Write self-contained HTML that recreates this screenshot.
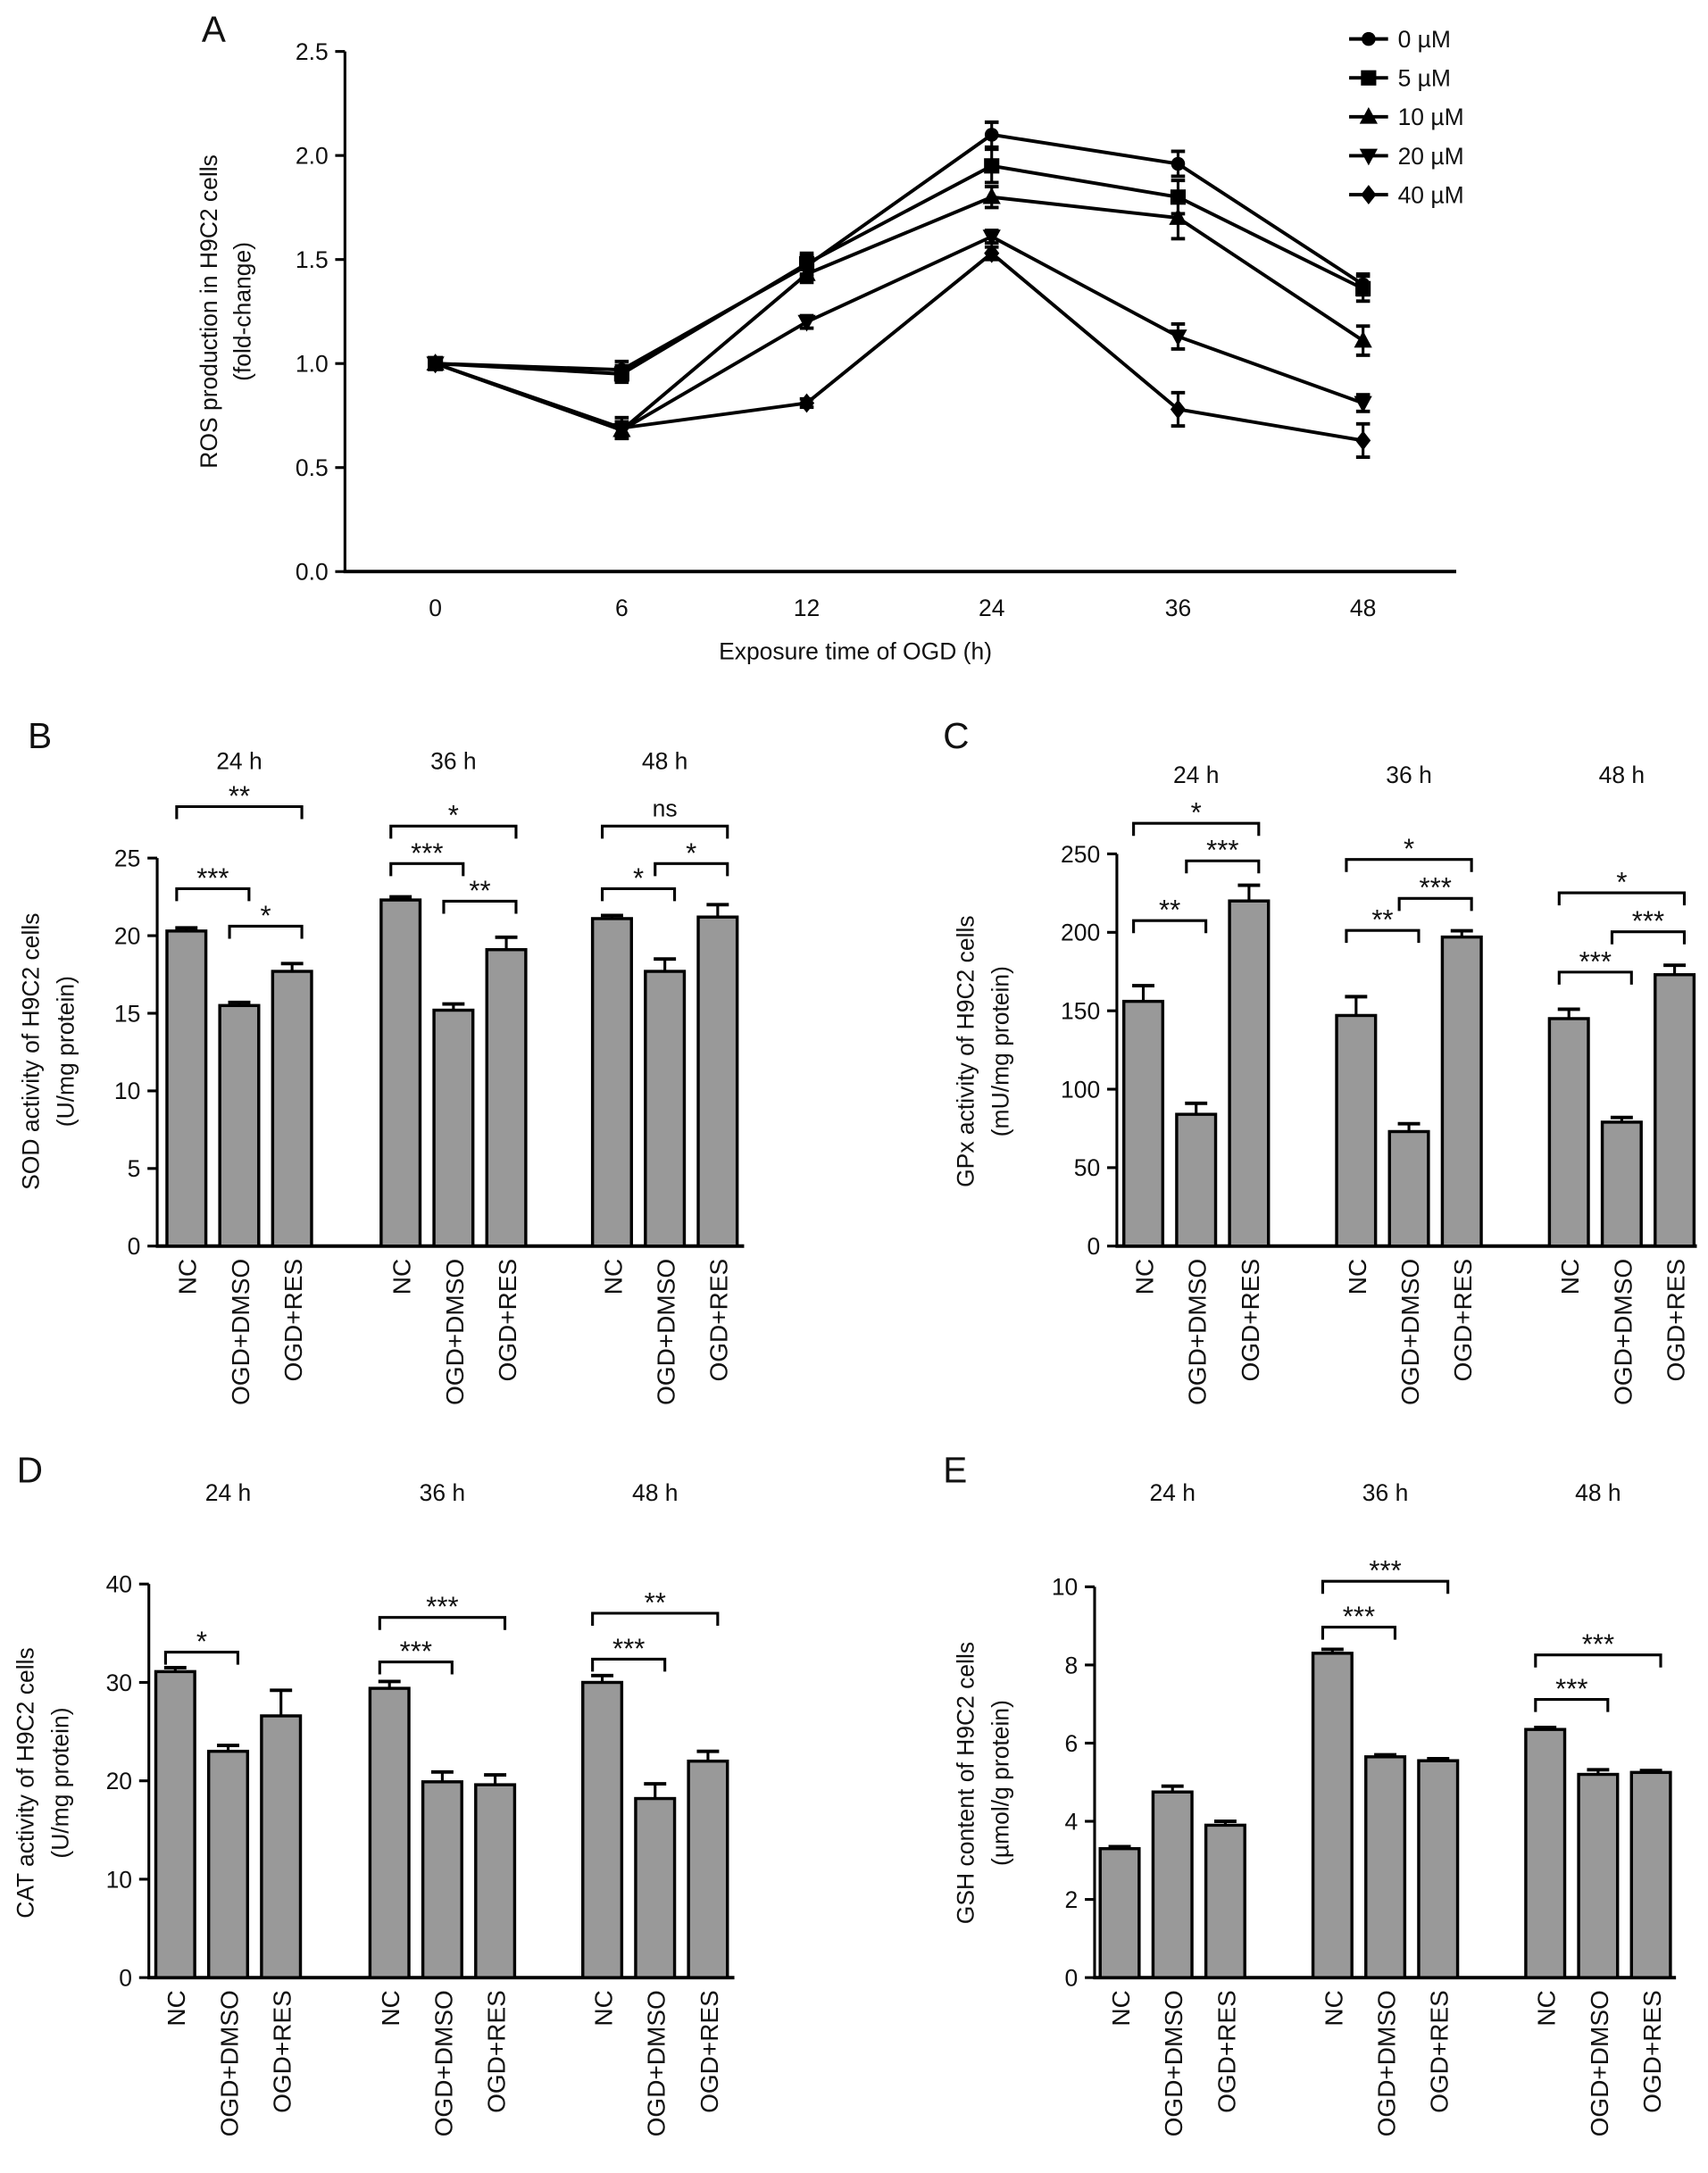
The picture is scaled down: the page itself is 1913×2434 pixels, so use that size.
<!DOCTYPE html>
<html><head><meta charset="utf-8"><style>
html,body{margin:0;padding:0;background:#fff}
svg{display:block}
text{font-family:"Liberation Sans",sans-serif;fill:#111}
</style></head><body>
<svg id="fig" width="1913" height="2434" viewBox="0 0 1228 1562.5" xmlns="http://www.w3.org/2000/svg"></svg>
<script>
// ---- Panel A data ----
const timesA = [0, 6, 12, 24, 36, 48];
const seriesNamesA = ["0 µM", "5 µM", "10 µM", "20 µM", "40 µM"];
const s0 = [1.0, 0.97, 1.47, 2.10, 1.96, 1.38];
const s5 = [1.0, 0.95, 1.48, 1.95, 1.80, 1.36];
const s10 = [1.0, 0.68, 1.43, 1.80, 1.70, 1.11];
const s20 = [1.0, 0.68, 1.20, 1.61, 1.13, 0.81];
const s40 = [1.0, 0.69, 0.81, 1.53, 0.78, 0.63];
const e0 = [0.02, 0.04, 0.05, 0.06, 0.06, 0.05];
const e5 = [0.02, 0.04, 0.05, 0.08, 0.08, 0.06];
const e10 = [0.02, 0.04, 0.04, 0.05, 0.1, 0.07];
const e20 = [0.02, 0.04, 0.03, 0.03, 0.06, 0.04];
const e40 = [0.02, 0.05, 0.02, 0.03, 0.08, 0.08];
const yTicksA = [0.0, 0.5, 1.0, 1.5, 2.0, 2.5];
// ---- Bar panels data ----
const groupsBar = ["24 h", "36 h", "48 h"];
const catsBar = ["NC", "OGD+DMSO", "OGD+RES"];
const valsB = [20.3, 15.5, 17.7, 22.3, 15.2, 19.1, 21.1, 17.7, 21.2];
const errB = [0.2, 0.2, 0.5, 0.2, 0.4, 0.8, 0.2, 0.8, 0.8];
const ticksB = [0, 5, 10, 15, 20, 25];
const valsC = [156, 84, 220, 147, 73, 197, 145, 79, 173];
const errC = [10, 7, 10, 12, 5, 4, 6, 3, 6];
const ticksC = [0, 50, 100, 150, 200, 250];
const valsD = [31.1, 23.0, 26.6, 29.4, 19.9, 19.6, 30.0, 18.2, 22.0];
const errD = [0.4, 0.6, 2.6, 0.7, 1.0, 1.0, 0.7, 1.5, 1.0];
const ticksD = [0, 10, 20, 30, 40];
const valsE = [3.3, 4.75, 3.9, 8.3, 5.65, 5.55, 6.35, 5.2, 5.25];
const errE = [0.05, 0.15, 0.1, 0.1, 0.05, 0.05, 0.05, 0.12, 0.05];
const ticksE = [0, 2, 4, 6, 8, 10];

const NS = "http://www.w3.org/2000/svg";
const svg = document.getElementById('fig');
function mk(tag, attrs, parent, txt) {
  const e = document.createElementNS(NS, tag);
  for (const k in attrs) e.setAttribute(k, attrs[k]);
  if (txt !== undefined) e.textContent = txt;
  (parent || svg).appendChild(e);
  return e;
}
function line(x1, y1, x2, y2, w, p) { return mk('line', {x1, y1, x2, y2, stroke: '#000', 'stroke-width': w || 2}, p); }

// ================= Panel A =================
(function () {
  const g = mk('g', {});
  
  
  const xs = {0: 313, 6: 447, 12: 580, 24: 713, 36: 847, 48: 980};
  const X = t => xs[t];
  const Y = v => 411 - v / 2.5 * 374;
  let t = mk('text', {x: 145, y: 30, 'font-size': 26}, g, 'A');
   
  line(248, 37, 248, 412, 2, g);
  line(247, 411, 1047, 411, 2.5, g);
  yTicksA.forEach(v => {
    line(241, Y(v), 248, Y(v), 2, g);
    const tt = mk('text', {x: 236, y: Y(v) + 6, 'font-size': 17, 'text-anchor': 'end'}, g, v.toFixed(1));
     
  });
  timesA.forEach(v => {
    const tt = mk('text', {x: X(v), y: 443, 'font-size': 17, 'text-anchor': 'middle'}, g, String(v));
     
  });
  t = mk('text', {x: 615, y: 474, 'font-size': 17, 'text-anchor': 'middle'}, g, 'Exposure time of OGD (h)');
   
  t = mk('text', {transform: 'translate(156,224) rotate(-90)', 'font-size': 17, 'text-anchor': 'middle'}, g, 'ROS production in H9C2 cells');
   
  t = mk('text', {transform: 'translate(180,224) rotate(-90)', 'font-size': 17, 'text-anchor': 'middle'}, g, '(fold-change)');
   

  function marker(type, x, y, p) {
    const s = 5.5;
    if (type === 0) return mk('circle', {cx: x, cy: y, r: 5}, p);
    if (type === 1) return mk('rect', {x: x - s, y: y - s, width: 2 * s, height: 2 * s}, p);
    if (type === 2) return mk('polygon', {points: `${x},${y - 7} ${x + 6.5},${y + 5} ${x - 6.5},${y + 5}`}, p);
    if (type === 3) return mk('polygon', {points: `${x},${y + 7} ${x + 6.5},${y - 5} ${x - 6.5},${y - 5}`}, p);
    return mk('polygon', {points: `${x},${y - 7} ${x + 5.5},${y} ${x},${y + 7} ${x - 5.5},${y}`}, p);
  }
  const allS = [s0, s5, s10, s20, s40], allE = [e0, e5, e10, e20, e40];
  allS.forEach((ser, i) => {
    const sg = mk('g', {}, g);
    
    
    const pts = ser.map((v, j) => X(timesA[j]) + ',' + Y(v)).join(' ');
    mk('polyline', {points: pts, fill: 'none', stroke: '#000', 'stroke-width': 2.5}, sg);
    ser.forEach((v, j) => {
      const x = X(timesA[j]), e = allE[i][j];
      line(x, Y(v + e), x, Y(v - e), 2, sg);
      line(x - 5, Y(v + e), x + 5, Y(v + e), 2.5, sg);
      line(x - 5, Y(v - e), x + 5, Y(v - e), 2.5, sg);
      const m = marker(i, x, Y(v), sg);
      
      
    });
  });
  seriesNamesA.forEach((n, i) => {
    const lg = mk('g', {}, g);
    
    
    const y = 28 + i * 28;
    line(970, y, 998, y, 2.5, lg);
    marker(i, 984, y, lg);
    mk('text', {x: 1005, y: y + 6, 'font-size': 17}, lg, n);
  });
})();

// ================= Bar panels =================
function barPanel(o) {
  const g = mk('g', {});
  
  
  const Y = v => o.y0 - v / o.ticks[o.ticks.length - 1] * (o.y0 - o.yTop);
  let t = mk('text', {x: o.lx, y: o.ly, 'font-size': 26}, g, o.letter);
   
  line(o.ax, Y(o.ticks[o.ticks.length - 1]), o.ax, o.y0 + 1, 2, g);
  line(o.ax - 1, o.y0, o.axEnd, o.y0, 2.5, g);
  o.ticks.forEach(v => {
    line(o.ax - 7, Y(v), o.ax, Y(v), 2, g);
    const tt = mk('text', {x: o.ax - 12, y: Y(v) + 6, 'font-size': 17, 'text-anchor': 'end'}, g, String(v));
     
  });
  t = mk('text', {transform: `translate(${o.ylx},${o.ylc}) rotate(-90)`, 'font-size': 17, 'text-anchor': 'middle'}, g, o.yl1);
   
  t = mk('text', {transform: `translate(${o.ylx + 25},${o.ylc}) rotate(-90)`, 'font-size': 17, 'text-anchor': 'middle'}, g, o.yl2);
   
  const cx = [];
  groupsBar.forEach((gn, gi) => {
    const gx = o.gx[gi];
    const tt = mk('text', {x: gx + 38, y: o.ty, 'font-size': 17, 'text-anchor': 'middle'}, g, gn);
     
    catsBar.forEach((c, ci) => {
      const i = gi * 3 + ci, x = gx + ci * 38;
      cx[i] = x;
      const v = o.vals[i], e = o.errs[i];
      line(x, Y(v), x, Y(v + e), 2, g);
      line(x - 8, Y(v + e), x + 8, Y(v + e), 2.5, g);
      const r = mk('rect', {x: x - 14, y: Y(v), width: 28, height: o.y0 - Y(v), fill: '#999', stroke: '#000', 'stroke-width': 2.2}, g);
      
      
      const lt = mk('text', {transform: `translate(${x + 7},${o.y0 + 9}) rotate(-90)`, 'font-size': 18, 'text-anchor': 'end'}, g, c);
       
    });
  });
  o.sig.forEach(s => {
    const [a, b, y, lab] = s;
    const x1 = cx[a] - 7, x2 = cx[b] + 7;
    const bg = mk('g', {}, g);
    
    
    mk('polyline', {points: `${x1},${y + 9} ${x1},${y} ${x2},${y} ${x2},${y + 9}`, fill: 'none', stroke: '#000', 'stroke-width': 2}, bg);
    mk('text', {x: (x1 + x2) / 2, y: lab === 'ns' ? y - 7 : y - 1, 'font-size': lab === 'ns' ? 17 : 20, 'text-anchor': 'middle'}, bg, lab);
  });
}
barPanel({name: 'panel-b-sod', letter: 'B', lx: 20, ly: 538, ax: 113, axEnd: 535, y0: 896, yTop: 617, ticks: ticksB,
  vals: valsB, errs: errB, gx: [134, 288, 440], ty: 553, ylx: 28, ylc: 756,
  yl1: 'SOD activity of H9C2 cells', yl2: '(U/mg protein)',
  sig: [[0, 2, 580, '**'], [0, 1, 639, '***'], [1, 2, 666, '*'], [3, 5, 594, '*'], [3, 4, 621, '***'], [4, 5, 648, '**'], [6, 8, 594, 'ns'], [6, 7, 639, '*'], [7, 8, 621, '*']]});
barPanel({name: 'panel-c-gpx', letter: 'C', lx: 678, ly: 538, ax: 803, axEnd: 1220, y0: 896, yTop: 614, ticks: ticksC,
  vals: valsC, errs: errC, gx: [822, 975, 1128], ty: 563, ylx: 700, ylc: 756,
  yl1: 'GPx activity of H9C2 cells', yl2: '(mU/mg protein)',
  sig: [[0, 2, 592, '*'], [1, 2, 619, '***'], [0, 1, 662, '**'], [3, 5, 618, '*'], [4, 5, 646, '***'], [3, 4, 669, '**'], [6, 8, 642, '*'], [7, 8, 670, '***'], [6, 7, 699, '***']]});
barPanel({name: 'panel-d-cat', letter: 'D', lx: 12, ly: 1066, ax: 107, axEnd: 528, y0: 1422, yTop: 1139, ticks: ticksD,
  vals: valsD, errs: errD, gx: [126, 280, 433], ty: 1079, ylx: 24, ylc: 1282,
  yl1: 'CAT activity of H9C2 cells', yl2: '(U/mg protein)',
  sig: [[0, 1, 1188, '*'], [3, 5, 1163, '***'], [3, 4, 1195, '***'], [6, 8, 1160, '**'], [6, 7, 1193, '***']]});
barPanel({name: 'panel-e-gsh', letter: 'E', lx: 678, ly: 1066, ax: 787, axEnd: 1205, y0: 1422, yTop: 1141, ticks: ticksE,
  vals: valsE, errs: errE, gx: [805, 958, 1111], ty: 1079, ylx: 700, ylc: 1282,
  yl1: 'GSH content of H9C2 cells', yl2: '(µmol/g protein)',
  sig: [[3, 5, 1137, '***'], [3, 4, 1170, '***'], [6, 8, 1190, '***'], [6, 7, 1222, '***']]});
</script>
</body></html>
